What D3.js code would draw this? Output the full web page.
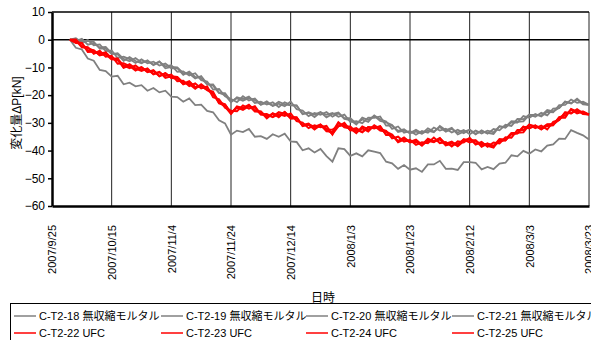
<!DOCTYPE html>
<html>
<head>
<meta charset="utf-8">
<script src="https://cdn.jsdelivr.net/npm/d3@7"></script>
<style>
  body { margin: 0; background: #fff; }
  text { font-family: "Liberation Sans", Arial, "Noto Sans CJK JP", sans-serif; }
</style>
</head>
<body>
<div id="chart"></div>
<script>
const W = 591, H = 340;
const margin = { top: 12, right: 2, bottom: 134, left: 52 },
	width = W - margin.left - margin.right,
	height = H - margin.top - margin.bottom;

// tick labels on the date axis (every 20 days)
const tickLabels = ['2007/9/25', '2007/10/15', '2007/11/4', '2007/11/24', '2007/12/14',
	'2008/1/3', '2008/1/23', '2008/2/12', '2008/3/3', '2008/3/23'];
const yTicks = [10, 0, -10, -20, -30, -40, -50, -60];

// readings start 2007/10/1, one value every 2 days
const firstDay = '2007/10/1';
const stepDays = 2;

// 無収縮モルタル (grey)
const s18 = [0, 0.5, -0.9, -0.1, -2.0, -1.7, -4.1, -3.9, -6.6, -6.1, -7.0, -8.4, -7.1, -8.5, -7.9, -9.3, -8.6, -10.3, -10.3, -12.7,
	-11.5, -13.4, -13.8, -16.2, -16.1, -19.1, -20.0, -22.6, -20.8, -21.4, -20.5, -22.8, -22.4, -23.4, -22.6, -24.3, -22.6, -23.6, -23.8, -26.7,
	-26.4, -27.9, -26.2, -27.1, -26.4, -27.8, -27.0, -29.7, -29.4, -30.1, -28.1, -28.2, -27.7, -31.0, -31.0, -32.9, -32.3, -33.8, -33.2, -33.9,
	-32.0, -33.1, -31.5, -33.2, -32.2, -33.5, -32.6, -34.1, -32.8, -33.8, -32.8, -33.4, -31.2, -31.8, -29.8, -29.9, -27.5, -28.2, -26.8, -27.7,
	-26.0, -26.2, -23.6, -23.5, -21.6, -22.8, -22.4, -23.5];
const s19 = [0, -0.5, 0.3, -1.8, -1.2, -2.8, -2.6, -4.9, -5.3, -7.6, -6.3, -7.7, -8.5, -7.4, -9.2, -8.0, -9.6, -9.2, -11.6, -11.4,
	-12.9, -12.1, -14.6, -15.1, -18.0, -17.8, -20.4, -21.4, -22.5, -20.4, -21.9, -21.2, -23.4, -22.2, -23.9, -23.1, -24.0, -22.3, -25.1, -25.6,
	-27.6, -26.4, -27.1, -26.1, -27.8, -26.5, -28.3, -28.3, -30.3, -28.8, -29.7, -27.3, -28.7, -29.5, -32.2, -31.3, -33.6, -32.9, -34.3, -32.9,
	-33.6, -31.7, -32.8, -32.1, -33.5, -32.5, -33.7, -32.5, -34.2, -32.7, -33.9, -32.2, -32.7, -30.7, -31.1, -28.6, -28.7, -27.0, -27.8, -26.4,
	-27.3, -24.9, -24.7, -22.4, -22.9, -21.6, -23.3, -23.5];
const s20 = [0, -2.9, -3.5, -6.8, -7.6, -10.9, -11.3, -13.3, -13.0, -16.1, -15.5, -16.8, -16.4, -18.4, -17.4, -19.0, -18.4, -20.5, -20.7, -22.4,
	-21.2, -23.6, -23.4, -25.7, -26.2, -29.1, -30.2, -34.3, -32.8, -33.3, -32.2, -35.0, -34.8, -35.8, -34.1, -35.0, -33.9, -36.7, -36.9, -39.9,
	-39.2, -40.7, -39.4, -42.0, -44.0, -39.2, -39.5, -41.9, -41.0, -42.1, -39.9, -40.4, -40.9, -44.0, -44.6, -46.6, -45.2, -46.9, -46.4, -47.7,
	-45.0, -45.0, -43.7, -46.6, -46.5, -47.0, -44.2, -44.2, -44.4, -46.8, -45.9, -46.7, -44.7, -44.4, -41.7, -42.1, -40.1, -41.1, -39.6, -40.3,
	-38.2, -37.8, -35.7, -35.8, -32.6, -33.6, -34.5, -36.0];
const s21 = [0, 0.2, -1.2, -0.4, -0.8, -3.2, -3.2, -5.2, -4.9, -6.9, -7.8, -6.6, -8.2, -7.7, -9.0, -7.8, -10.3, -9.8, -10.0, -12.1,
	-12.2, -14.0, -13.1, -15.9, -16.6, -19.3, -19.3, -22.1, -21.2, -22.0, -21.0, -21.8, -23.5, -22.7, -23.8, -22.4, -23.3, -23.7, -23.7, -26.9,
	-26.2, -27.0, -26.1, -28.0, -26.8, -26.3, -28.6, -29.0, -30.6, -28.1, -29.0, -27.5, -29.3, -29.8, -30.8, -33.3, -32.8, -33.7, -32.5, -33.8,
	-32.8, -33.4, -31.1, -32.7, -31.8, -34.2, -33.2, -32.5, -33.9, -33.0, -33.6, -34.0, -31.3, -31.5, -29.4, -29.6, -29.5, -27.1, -27.1, -27.4,
	-25.4, -25.9, -24.6, -22.3, -23.0, -21.3, -23.1, -23.5];

// UFC (red)
const s22 = [0, 0.1, -2.4, -2.7, -5.1, -4.0, -6.1, -5.8, -8.7, -8.5, -9.5, -11.1, -9.9, -11.5, -11.2, -13.1, -12.1, -13.7, -13.7, -16.1,
	-15.3, -17.1, -16.8, -18.0, -18.8, -22.8, -24.1, -26.8, -24.1, -24.7, -23.5, -25.6, -25.9, -28.0, -26.6, -28.0, -26.1, -27.9, -28.1, -31.0,
	-30.7, -32.4, -30.7, -32.1, -34.0, -31.3, -30.0, -32.7, -32.5, -33.3, -31.5, -31.8, -31.2, -34.4, -34.4, -36.6, -35.5, -37.0, -36.8, -38.0,
	-35.7, -36.7, -36.0, -38.0, -37.2, -37.7, -36.0, -37.1, -36.4, -38.0, -37.5, -38.3, -35.9, -36.3, -34.1, -33.9, -31.4, -31.8, -30.9, -32.3,
	-31.1, -30.9, -27.9, -27.4, -25.2, -26.6, -25.9, -27.0];
const s23 = [0, -0.9, -1.2, -4.4, -4.3, -5.1, -4.6, -6.8, -7.4, -10.0, -8.8, -10.4, -11.3, -10.4, -12.5, -11.8, -13.1, -12.6, -15.0, -14.8,
	-16.7, -15.8, -17.6, -16.9, -20.7, -21.5, -24.5, -25.6, -25.8, -23.7, -24.9, -24.0, -26.9, -26.8, -27.9, -26.8, -27.5, -26.6, -29.4, -29.9,
	-31.9, -30.9, -31.6, -31.1, -34.2, -30.0, -31.3, -31.3, -33.4, -32.0, -33.1, -30.9, -32.2, -32.9, -35.6, -35.0, -36.8, -36.1, -37.9, -37.0,
	-37.3, -35.3, -37.3, -36.9, -38.5, -36.7, -37.1, -35.5, -37.8, -36.9, -38.6, -37.1, -37.4, -35.2, -35.4, -32.6, -32.6, -30.6, -31.9, -31.0,
	-32.4, -29.6, -29.0, -26.3, -26.5, -25.4, -26.8, -27.0];
const s24 = [0, -0.2, -2.7, -3.0, -3.9, -5.5, -5.2, -7.1, -7.0, -9.3, -10.3, -9.3, -11.0, -10.7, -12.3, -11.6, -13.8, -13.2, -13.4, -15.5,
	-16.0, -17.7, -16.1, -17.7, -19.3, -23.0, -23.4, -26.3, -24.5, -25.3, -24.0, -24.6, -27.0, -27.3, -27.8, -26.1, -26.8, -28.0, -28.0, -31.2,
	-30.5, -31.5, -30.6, -33.0, -33.2, -29.8, -31.6, -32.0, -33.7, -31.3, -32.4, -31.1, -32.8, -33.2, -34.2, -37.0, -36.0, -36.9, -36.1, -37.9,
	-36.5, -37.0, -35.6, -37.5, -36.8, -38.4, -36.6, -35.5, -37.5, -37.2, -38.3, -38.9, -36.0, -36.0, -33.7, -33.6, -33.4, -30.7, -31.2, -32.0,
	-30.5, -30.6, -28.9, -26.2, -26.6, -25.1, -26.6, -27.0];
const s25 = [0, -1.2, -1.3, -3.9, -3.8, -5.7, -5.1, -6.7, -6.8, -10.1, -9.3, -10.5, -10.0, -11.7, -11.0, -13.2, -12.1, -13.8, -14.0, -15.9,
	-15.0, -17.2, -16.6, -18.2, -19.5, -22.5, -23.3, -26.6, -24.3, -24.8, -23.7, -25.9, -26.0, -28.4, -26.6, -27.3, -26.1, -28.5, -28.3, -30.8,
	-30.3, -32.1, -31.0, -32.5, -32.4, -31.2, -30.7, -32.5, -31.9, -33.4, -31.5, -32.0, -31.3, -34.2, -34.6, -36.6, -35.3, -37.0, -36.6, -38.2,
	-36.2, -36.7, -35.5, -38.1, -37.5, -38.2, -35.9, -36.2, -36.3, -38.6, -37.5, -38.4, -36.6, -36.3, -33.7, -33.6, -31.4, -32.0, -31.0, -32.3,
	-30.7, -30.4, -28.2, -28.2, -25.0, -26.0, -26.0, -27.0];

const seriesNames = ['C-T2-18 無収縮モルタル', 'C-T2-19 無収縮モルタル', 'C-T2-20 無収縮モルタル', 'C-T2-21 無収縮モルタル',
	'C-T2-22 UFC', 'C-T2-23 UFC', 'C-T2-24 UFC', 'C-T2-25 UFC'];
const seriesValues = [s18, s19, s20, s21, s22, s23, s24, s25];
const seriesColors = ['#808080', '#808080', '#808080', '#808080', '#ff0000', '#ff0000', '#ff0000', '#ff0000'];

const parse = d3.timeParse('%Y/%m/%d');
const ticks = tickLabels.map(parse);
const start = parse(firstDay);

const svg = d3.select('#chart')
	.append('svg')
	.attr('width', W)
	.attr('height', H);
const g = svg.append('g')
	.attr('transform', 'translate(' + margin.left + ',' + margin.top + ')');

// scales
const x = d3.scaleTime()
	.domain([ticks[0], ticks[ticks.length - 1]])
	.range([0, width]);
const y = d3.scaleLinear()
	.domain([-60, 10])
	.range([height, 0]);

// vertical grid lines at the date ticks
g.append('g')
	.selectAll('line')
	.data(ticks.slice(1))
	.join('line')
	.attr('x1', d => x(d)).attr('x2', d => x(d))
	.attr('y1', 0).attr('y2', height)
	.attr('stroke', '#222')
	.attr('stroke-width', 1);

// top frame and zero line
g.append('line')
	.attr('x1', 0).attr('x2', width)
	.attr('y1', 0).attr('y2', 0)
	.attr('stroke', '#000').attr('stroke-width', 1.5);
g.append('line')
	.attr('x1', 0).attr('x2', width)
	.attr('y1', y(0)).attr('y2', y(0))
	.attr('stroke', '#000').attr('stroke-width', 1.5);

// lines
const line = d3.line()
	.x((d, i) => x(d3.timeDay.offset(start, i * stepDays)))
	.y(d => y(d));
seriesValues.forEach((vals, k) => {
	g.append('path')
		.datum(vals)
		.attr('fill', 'none')
		.attr('stroke', seriesColors[k])
		.attr('stroke-width', k < 4 ? 1.8 : 2)
		.attr('stroke-linejoin', 'miter')
		.attr('d', line);
});

// y axis
const yAxis = g.append('g')
	.call(d3.axisLeft(y).tickValues(yTicks).tickSize(4).tickSizeOuter(0)
		.tickFormat(d => d < 0 ? '\u2212' + Math.abs(d) : d));
yAxis.select('.domain').attr('stroke-width', 2.5);
yAxis.selectAll('.tick line').attr('stroke-width', 1.5);
yAxis.selectAll('text')
	.attr('font-size', 12)
	.attr('fill', '#000')
	.attr('font-family', '"Liberation Sans", Arial, sans-serif');

// x axis
const xAxis = g.append('g')
	.attr('transform', 'translate(0,' + height + ')')
	.call(d3.axisBottom(x).tickValues(ticks).tickSize(0).tickSizeOuter(0)
		.tickFormat((d, i) => tickLabels[i]));
xAxis.select('.domain').attr('stroke-width', 2.5);
xAxis.selectAll('text')
	.attr('font-size', 11)
	.attr('fill', '#000')
	.attr('font-family', '"Liberation Sans", Arial, sans-serif')
	.attr('text-anchor', 'end')
	.attr('transform', 'rotate(-90)')
	.attr('x', -19)
	.attr('y', 0)
	.attr('dy', '0.35em');

// axis titles
svg.append('text')
	.attr('x', 323).attr('y', 302)
	.attr('text-anchor', 'middle')
	.attr('font-size', 12)
	.attr('font-family', '"Noto Sans CJK JP", sans-serif')
	.text('日時');
svg.append('text')
	.attr('transform', 'translate(21,' + (margin.top + height / 2 + 4) + ') rotate(-90)')
	.attr('text-anchor', 'middle')
	.attr('font-size', 12)
	.attr('font-family', '"Liberation Sans", "Noto Sans CJK JP", sans-serif')
	.text('変化量ΔP[kN]');

// legend
const legend = svg.append('g');
legend.append('rect')
	.attr('x', 10.5).attr('y', 303.5)
	.attr('width', 600).attr('height', 60)
	.attr('fill', '#fff')
	.attr('stroke', '#000');
const colX = [14, 161, 306, 452];
seriesNames.forEach((name, k) => {
	const cx = colX[k % 4], cy = k < 4 ? 316 : 333;
	legend.append('line')
		.attr('x1', cx).attr('x2', cx + 22)
		.attr('y1', cy).attr('y2', cy)
		.attr('stroke', seriesColors[k])
		.attr('stroke-width', 1.5);
	legend.append('text')
		.attr('x', cx + 25).attr('y', cy + 4)
		.attr('font-size', 11)
		.attr('font-family', '"Liberation Sans", "Noto Sans CJK JP", sans-serif')
		.text(name);
});
</script>
</body>
</html>
